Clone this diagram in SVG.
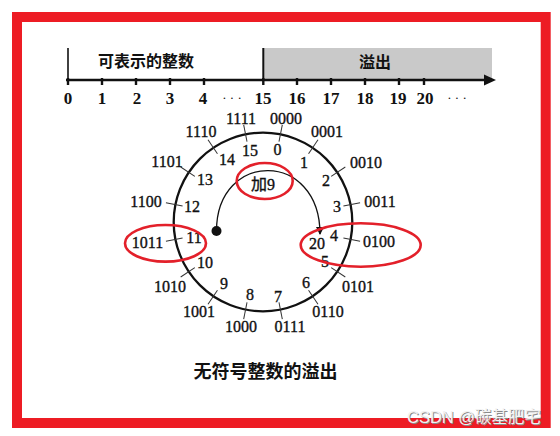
<svg xmlns="http://www.w3.org/2000/svg" xmlns:xlink="http://www.w3.org/1999/xlink" width="560" height="436" viewBox="0 0 560 436">
<style>
  .num { font-family: 'Liberation Serif', serif; font-size: 17px; font-weight: bold; fill: #111; text-anchor: middle; }
  .bin { font-family: 'Liberation Serif', serif; font-size: 16px; fill: #111; stroke: #111; stroke-width: 0.35; text-anchor: middle; }
  .dec { font-family: 'Liberation Serif', serif; font-size: 16px; fill: #111; stroke: #111; stroke-width: 0.35; text-anchor: middle; }
  .cjk { font-family: 'Liberation Serif', 'Noto Sans CJK SC', sans-serif; font-weight: bold; fill: #111; text-anchor: middle; }
  .tick { stroke: #111; stroke-width: 2.4; }
  .ctick { stroke: #333; stroke-width: 1; }
  .hl { fill: none; stroke: #e3202a; stroke-width: 2.6; }
  .wm { font-family: 'Liberation Sans', 'Noto Sans CJK SC', sans-serif; font-size: 16.5px; }
</style>
<defs>
  <marker id="arrow" markerWidth="8" markerHeight="10" refX="7" refY="4" orient="auto" markerUnits="userSpaceOnUse">
    <path d="M0,0 L8,4 L0,8 Z" fill="#111"/>
  </marker>
  <line id="tk" class="ctick" x1="263" y1="123" x2="263" y2="140"/>
</defs>
<rect x="0" y="0" width="560" height="436" fill="#ffffff"/>

<g id="number-line">
  <rect x="263" y="48" width="229" height="32" fill="#c9c9c9"/>
  <line x1="68" y1="48" x2="68" y2="80" stroke="#111" stroke-width="1.6"/>
  <line x1="263.3" y1="48" x2="263.3" y2="80" stroke="#111" stroke-width="2"/>
  <line x1="66" y1="80" x2="488" y2="80" stroke="#111" stroke-width="2.5"/>
  <path d="M484,74.5 L496,80 L484,85.5 Z" fill="#111"/>
  <g class="tick">
    <line x1="68" y1="78" x2="68" y2="85"/>
    <line x1="102" y1="78" x2="102" y2="85"/>
    <line x1="136" y1="78" x2="136" y2="85"/>
    <line x1="170" y1="78" x2="170" y2="85"/>
    <line x1="204" y1="78" x2="204" y2="85"/>
    <line x1="263.3" y1="78" x2="263.3" y2="85"/>
    <line x1="297" y1="78" x2="297" y2="85"/>
    <line x1="331" y1="78" x2="331" y2="85"/>
    <line x1="365" y1="78" x2="365" y2="85"/>
    <line x1="399" y1="78" x2="399" y2="85"/>
    <line x1="424" y1="78" x2="424" y2="85"/>
  </g>
  <text class="cjk" x="146" y="67" font-size="16">可表示的整数</text>
  <text class="cjk" x="375" y="68" font-size="16">溢出</text>
  <g class="num">
    <text x="68" y="104">0</text>
    <text x="102" y="104">1</text>
    <text x="137" y="104">2</text>
    <text x="170" y="104">3</text>
    <text x="203" y="104">4</text>
    <text x="232" y="102" font-weight="normal" font-size="13">· · ·</text>
    <text x="263" y="104">15</text>
    <text x="297" y="104">16</text>
    <text x="331" y="104">17</text>
    <text x="365" y="104">18</text>
    <text x="398" y="104">19</text>
    <text x="425" y="104">20</text>
    <text x="457" y="102" font-weight="normal" font-size="13">· · ·</text>
  </g>
</g>

<g id="ring">
  <circle cx="263" cy="222" r="89.3" fill="none" stroke="#111" stroke-width="2.3"/>
  <use xlink:href="#tk" href="#tk" transform="rotate(11.25 263 222)"/>
  <use xlink:href="#tk" href="#tk" transform="rotate(33.75 263 222)"/>
  <use xlink:href="#tk" href="#tk" transform="rotate(56.25 263 222)"/>
  <use xlink:href="#tk" href="#tk" transform="rotate(78.75 263 222)"/>
  <use xlink:href="#tk" href="#tk" transform="rotate(101.25 263 222)"/>
  <use xlink:href="#tk" href="#tk" transform="rotate(123.75 263 222)"/>
  <use xlink:href="#tk" href="#tk" transform="rotate(146.25 263 222)"/>
  <use xlink:href="#tk" href="#tk" transform="rotate(168.75 263 222)"/>
  <use xlink:href="#tk" href="#tk" transform="rotate(191.25 263 222)"/>
  <use xlink:href="#tk" href="#tk" transform="rotate(213.75 263 222)"/>
  <use xlink:href="#tk" href="#tk" transform="rotate(236.25 263 222)"/>
  <use xlink:href="#tk" href="#tk" transform="rotate(258.75 263 222)"/>
  <use xlink:href="#tk" href="#tk" transform="rotate(281.25 263 222)"/>
  <use xlink:href="#tk" href="#tk" transform="rotate(303.75 263 222)"/>
  <use xlink:href="#tk" href="#tk" transform="rotate(326.25 263 222)"/>
  <use xlink:href="#tk" href="#tk" transform="rotate(348.75 263 222)"/>
</g>

<g id="binary-labels" class="bin">
  <text x="241" y="124">1111</text>
  <text x="286" y="124">0000</text>
  <text x="327" y="137">0001</text>
  <text x="366" y="168">0010</text>
  <text x="380" y="207">0011</text>
  <text x="379" y="247">0100</text>
  <text x="358" y="292">0101</text>
  <text x="328" y="317">0110</text>
  <text x="290" y="332">0111</text>
  <text x="241" y="332">1000</text>
  <text x="199" y="317">1001</text>
  <text x="170" y="292">1010</text>
  <text x="147.5" y="248">1011</text>
  <text x="146" y="207">1100</text>
  <text x="167" y="167">1101</text>
  <text x="201" y="137">1110</text>
</g>

<g id="decimal-labels" class="dec">
  <text x="250" y="156">15</text>
  <text x="277.5" y="155">0</text>
  <text x="304" y="168">1</text>
  <text x="326" y="186">2</text>
  <text x="337" y="212">3</text>
  <text x="334" y="241">4</text>
  <text x="325" y="267">5</text>
  <text x="306" y="288">6</text>
  <text x="278" y="302">7</text>
  <text x="250" y="300">8</text>
  <text x="224" y="289">9</text>
  <text x="205" y="268">10</text>
  <text x="194" y="243">11</text>
  <text x="192" y="212">12</text>
  <text x="205" y="185">13</text>
  <text x="227" y="165">14</text>
  <text x="317" y="249">20</text>
</g>

<g id="connectors">
  <path d="M216.5,231 C216.5,150 320,150 320,234" fill="none" stroke="#111" stroke-width="1.3" marker-end="url(#arrow)"/>
  <circle cx="216.5" cy="231" r="5" fill="#111"/>
</g>

<g id="add9">
  <text x="263" y="190" font-family="'Liberation Serif','Noto Sans CJK SC',serif" font-size="16" fill="#111" stroke="#111" stroke-width="0.35" text-anchor="middle">加9</text>
</g>

<g id="highlights">
  <ellipse class="hl" cx="264.7" cy="181" rx="28" ry="18"/>
  <ellipse class="hl" cx="165.5" cy="243.3" rx="40.5" ry="18.3"/>
  <ellipse class="hl" cx="360.7" cy="245" rx="60" ry="21.7"/>
</g>

<g id="caption">
  <text x="265.5" y="378" font-family="'Noto Sans CJK SC',sans-serif" font-size="18" font-weight="bold" fill="#111" text-anchor="middle">无符号整数的溢出</text>
</g>

<rect id="frame" x="17" y="17" width="528.7" height="406" fill="none" stroke="#ed1c24" stroke-width="10"/>

<g id="watermark" class="wm">
  <text x="408" y="424" fill="#8a8a8a">CSDN @碳基肥宅</text>
  <text x="407" y="423" fill="#f2f2f2">CSDN @碳基肥宅</text>
</g>
</svg>
